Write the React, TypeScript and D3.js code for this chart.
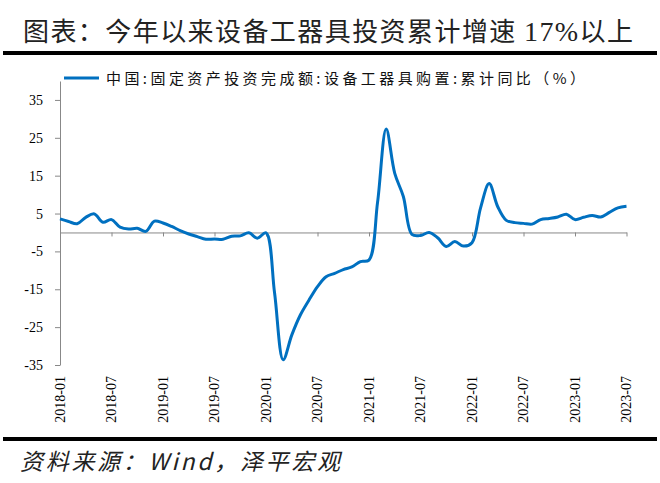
import { useEffect, useRef } from 'react';
import { axisBottom, axisLeft, curveCatmullRom, line, range, scaleLinear, select } from 'd3';

// 月度数据：2018-01 ~ 2023-07
const startYear = 2018;
const values = [
  3.6, 2.9, 2.3, 4.0, 4.9, 2.7, 3.4, 1.4, 0.9, 1.1, 0.3, 3.0,
  2.5, 1.6, 0.5, -0.4, -1.1, -1.8, -1.7, -1.8, -1.0, -0.9, -0.1, -1.5,
  -0.1, -16.0, -33.6, -27.1, -21.8, -17.9, -14.3, -11.7, -10.8, -9.8, -9.1, -7.7,
  -7.3, 8.0, 27.3, 15.6, 9.5, -0.5, -0.8, 0.0, -1.4, -3.7, -2.4, -3.6,
  -2.7, 6.5, 12.9, 6.8, 3.2, 2.6, 2.4, 2.2, 3.4, 3.7, 4.1, 4.8,
  3.4, 4.0, 4.5, 4.1, 5.3, 6.5, 6.9,
];
const months = values.map((_, i) => {
  const y = startYear + Math.floor(i / 12);
  const m = (i % 12) + 1;
  return `${y}-${m < 10 ? '0' + m : m}`;
});
const xTickLabels = [
  '2018-01', '2018-07', '2019-01', '2019-07', '2020-01', '2020-07',
  '2021-01', '2021-07', '2022-01', '2022-07', '2023-01', '2023-07',
];
const yTicks = [35, 25, 15, 5, -5, -15, -25, -35];

const title = '图表：今年以来设备工器具投资累计增速 17%以上';
const legendLabel = '中国:固定资产投资完成额:设备工器具购置:累计同比（%）';
const source = '资料来源：Wind，泽平宏观';

export default function App() {
  const svgRef = useRef<SVGSVGElement>(null);

  useEffect(() => {
    document.body.style.margin = '0';
    const width = 660;
    const height = 483;
    const serif = 'Liberation Serif, DejaVu Serif, serif';
    const cjk = 'Noto Sans CJK SC, sans-serif';

    const svg = select(svgRef.current);
    svg.selectAll('*').remove();
    svg.attr('width', width).attr('height', height);

    svg.append('rect').attr('width', width).attr('height', height).attr('fill', '#fff');

    // 标题（“17%”用衬线体）
    const t = svg
      .append('text')
      .attr('x', 23)
      .attr('y', 41)
      .attr('fill', '#222')
      .style('font-size', '26px')
      .style('font-family', cjk)
      .attr('textLength', 610)
      .attr('lengthAdjust', 'spacing');
    t.append('tspan').text(title.slice(0, 19));
    t.append('tspan').style('font-family', serif).style('font-size', '28px').text(title.slice(19, 22));
    t.append('tspan').text(title.slice(22));

    svg.append('rect').attr('x', 3).attr('y', 51).attr('width', 654).attr('height', 4).attr('fill', '#000');
    svg.append('rect').attr('x', 3).attr('y', 437).attr('width', 654).attr('height', 4).attr('fill', '#000');

    svg
      .append('text')
      .attr('x', 20)
      .attr('y', 470)
      .style('font-family', cjk)
      .style('font-style', 'italic')
      .style('font-size', '23px')
      .attr('fill', '#222')
      .attr('textLength', 320)
      .attr('lengthAdjust', 'spacing')
      .text(source);

    const idx = range(months.length);
    const x = scaleLinear().domain([0, months.length - 1]).range([60, 626.5]);
    const y = scaleLinear().domain([-35, 40]).range([365, 81]);

    // 图例
    svg
      .append('line')
      .attr('x1', 64)
      .attr('x2', 99)
      .attr('y1', 78)
      .attr('y2', 78)
      .attr('stroke', '#0070C0')
      .attr('stroke-width', 3);
    svg
      .append('text')
      .attr('x', 106)
      .attr('y', 84)
      .style('font-family', cjk)
      .style('font-size', '15px')
      .attr('fill', '#111')
      .attr('textLength', 479)
      .attr('lengthAdjust', 'spacing')
      .text(legendLabel);

    // y 轴
    const yAxis = svg
      .append('g')
      .attr('transform', `translate(${x(0)},0)`)
      .call(
        axisLeft(y)
          .tickValues(yTicks)
          .tickSize(5)
          .tickSizeOuter(0)
          .tickPadding(12)
          .tickFormat((d) => String(d)),
      );
    yAxis.attr('font-family', null).attr('font-size', null);
    yAxis.select('.domain').attr('stroke', '#888');
    yAxis.selectAll('.tick line').attr('stroke', '#888');
    yAxis
      .selectAll('.tick text')
      .style('font-family', serif)
      .style('font-size', '14px')
      .attr('fill', '#000');

    // x 轴（0 轴位置）
    const tickIdx = xTickLabels.map((l) => months.indexOf(l));
    const xAxis = svg
      .append('g')
      .attr('transform', `translate(0,${y(0)})`)
      .call(
        axisBottom(x)
          .tickValues(tickIdx)
          .tickSize(4)
          .tickSizeOuter(0)
          .tickFormat(() => ''),
      );
    xAxis.select('.domain').attr('stroke', '#888');
    xAxis.selectAll('.tick line').attr('stroke', '#888');

    svg
      .append('g')
      .selectAll('text')
      .data(tickIdx)
      .enter()
      .append('text')
      .attr('transform', (d) => `translate(${x(d)},376) rotate(-90)`)
      .attr('dy', '0.35em')
      .attr('text-anchor', 'end')
      .style('font-family', serif)
      .style('font-size', '14px')
      .attr('fill', '#000')
      .text((d) => months[d]);

    // 折线
    const path = line<number>()
      .x((i) => x(i))
      .y((i) => y(values[i]))
      .curve(curveCatmullRom.alpha(0.5));

    svg
      .append('path')
      .datum(idx)
      .attr('d', path)
      .attr('fill', 'none')
      .attr('stroke', '#0070C0')
      .attr('stroke-width', 3)
      .attr('stroke-linejoin', 'round');
  }, []);

  return (
    <div>
      <svg ref={svgRef}></svg>
    </div>
  );
}
